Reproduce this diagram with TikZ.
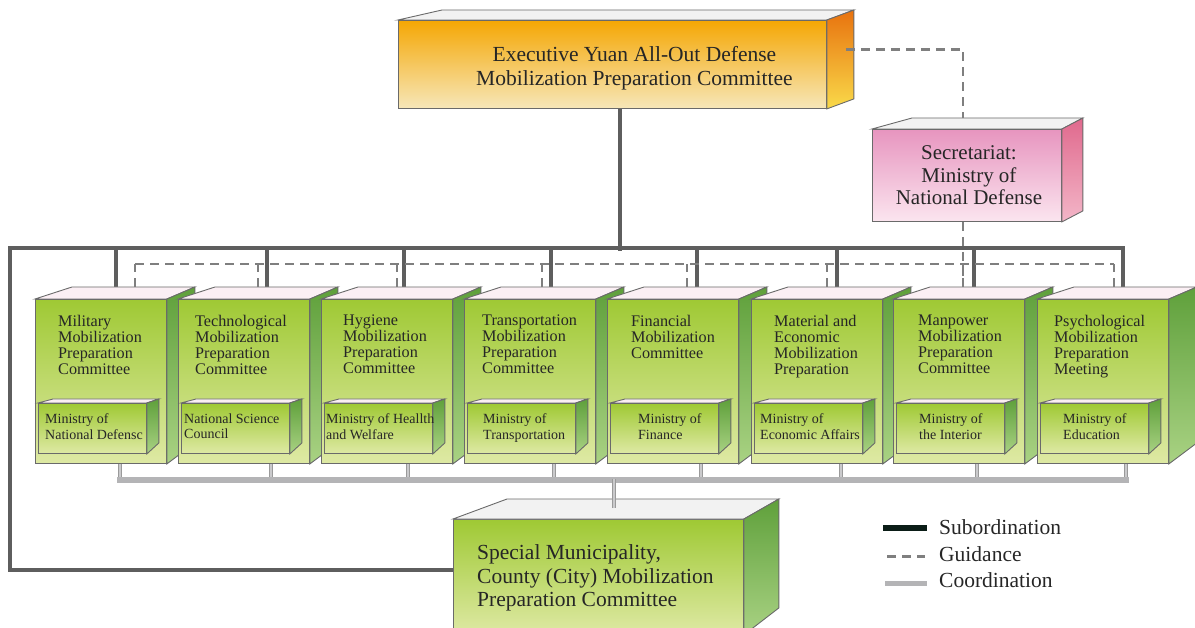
\documentclass[tikz,border=0pt]{standalone}
\usepackage{fontspec}
\setmainfont{Liberation Serif}
\usetikzlibrary{positioning,calc}
\pgfdeclarelayer{back}
\pgfsetlayers{back,main}
\definecolor{subgray}{HTML}{5E5E5E}
\definecolor{guidegray}{HTML}{7F7F7F}
\definecolor{coordgray}{HTML}{B4B4B6}
\definecolor{stubgray}{HTML}{9A9A9A}
\definecolor{stubfill}{HTML}{CACACC}
\definecolor{edgegray}{HTML}{6A6A6A}
\definecolor{txtgray}{HTML}{262626}
\definecolor{greentop}{HTML}{9FC934}
\definecolor{greenbot}{HTML}{DEE9A4}
\definecolor{greensidetop}{HTML}{5FA03B}
\definecolor{greensidebot}{HTML}{A9D283}
\definecolor{orangetop}{HTML}{F5A704}
\definecolor{orangebot}{HTML}{F6E7B9}
\definecolor{orangesidetop}{HTML}{E8720E}
\definecolor{orangesidebot}{HTML}{F9DA4A}
\definecolor{pinktop}{HTML}{E795BF}
\definecolor{pinkbot}{HTML}{FBE5EF}
\definecolor{pinksidetop}{HTML}{E0698D}
\definecolor{pinksidebot}{HTML}{F3B6C8}
\definecolor{lidpink}{HTML}{FBEFF4}
\definecolor{lidgray}{HTML}{F2F2F2}
\definecolor{legendblack}{HTML}{0B1D17}
\tikzset{
  face/.style={draw=edgegray,line width=0.9pt},
  front/.style={face,rectangle,inner sep=0pt,anchor=north west},
  greenfront/.style={front,top color=greentop,bottom color=greenbot},
  orangefront/.style={front,top color=orangetop,bottom color=orangebot},
  pinkfront/.style={front,top color=pinktop,bottom color=pinkbot},
  innerfront/.style={greenfront,minimum width=108pt,minimum height=50pt},
  pinklid/.style={fill=lidpink},
  graylid/.style={fill=lidgray},
  greenside/.style={top color=greensidetop,bottom color=greensidebot},
  orangeside/.style={top color=orangesidetop,bottom color=orangesidebot},
  pinkside/.style={top color=pinksidetop,bottom color=pinksidebot},
  cmtext/.style={inner sep=0pt,align=left,text=txtgray,font=\fontsize{16.2}{16}\selectfont},
  mintext/.style={inner sep=0pt,align=left,text=txtgray,font=\fontsize{14}{15.5}\selectfont},
  bigtext/.style={inner sep=0pt,align=center,text=txtgray,font=\fontsize{21.5}{23.5}\selectfont},
  legtext/.style={inner sep=0pt,text=txtgray,font=\fontsize{21.5}{26}\selectfont},
  subline/.style={draw=subgray,line width=4.5pt,line cap=rect},
  guideline/.style={draw=guidegray,line width=2.5pt,dash pattern=on 9pt off 6pt},
  coordline/.style={draw=coordgray,line width=5.5pt,line cap=rect},
  coordstub/.style={draw=stubgray,line width=1.3pt,double=stubfill,double distance=1.6pt}
}
% lid and right face of a front node
\newcommand{\cubefaces}[7]{%
  \path[face,#6] (#1.north west) -- ++(#2,-#4) -- ($(#1.north east)+(#3,-#4)$) -- (#1.north east) -- cycle;
  \path[face,#7] (#1.north east) -- ++(#3,-#4) -- ($(#1.south east)+(#3,-#5)$) -- (#1.south east) -- cycle;
}
% committee box with its ministry and its three stubs
\newcommand{\committee}[9]{%
  \node (#1) [greenfront,minimum width=131pt,minimum height=164pt] at (#2,299) {};
  \cubefaces{#1}{37}{28}{12}{21}{pinklid}{greenside}
  \node (#1txt) [cmtext,below right=16pt and #4pt of #1.north west] {#3};
  \node (#1in) [innerfront,below right=104pt and 3pt of #1.north west] {};
  \cubefaces{#1in}{15}{12}{4}{11}{pinklid}{greenside}
  \node (#1min) [mintext,below right=10.5pt and #6pt of #1in.north west] {#5};
  \begin{pgfonlayer}{back}
  \draw[subline] ($(#1.north west)+(#7,-12)$) -- ++(0,-39);
  \draw[guideline] ($(#1.north west)+(#8,-12)$) -- ++(0,-23);
  \draw[coordstub] ($(#1.south west)+(#9,0)$) -- ++(0,15);
  \end{pgfonlayer}
}

\begin{document}
\begin{tikzpicture}[x=1pt,y=-1pt]
\useasboundingbox (0,0) rectangle (1195,628);
%
\committee{mil}{35}{Military\\Mobilization\\Preparation\\Committee}{23}{Ministry of\\National Defensc}{7}{81}{100}{85}
\committee{tech}{178}{Technological\\Mobilization\\Preparation\\Committee}{17}{National Science\\Council}{3}{89}{80}{93}
\committee{hyg}{321}{Hygiene\\Mobilization\\Preparation\\Committee}{22}{Ministry of Heallth\\and Welfare}{2}{83}{76}{87}
\committee{trans}{464}{Transportation\\Mobilization\\Preparation\\Committee}{18}{Ministry of\\Transportation}{16}{87}{78}{90}
\committee{fin}{607}{Financial\\Mobilization\\Committee}{24}{Ministry of\\Finance}{28}{90}{80}{94}
\committee{mat}{751}{Material and\\Economic\\Mobilization\\Preparation}{23}{Ministry of\\Economic Affairs}{6}{86}{76}{90}
\committee{man}{893}{Manpower\\Mobilization\\Preparation\\Committee}{25}{Ministry of\\the Interior}{23}{81}{70}{84}
\committee{psy}{1037}{Psychological\\Mobilization\\Preparation\\Meeting}{17}{Ministry of\\Education}{23}{86}{77}{89}
%
\node (exec) [orangefront,minimum width=428pt,minimum height=88pt] at (398,20) {};
\cubefaces{exec}{44}{27}{10}{10}{graylid}{orangeside}
\node (exectxt) [bigtext] at ($(exec.center)+(22,4)$) {Executive Yuan All-Out Defense\\Mobilization Preparation Committee};
%
\node (secr) [pinkfront,minimum width=189pt,minimum height=92pt] at (872,129) {};
\cubefaces{secr}{40}{21}{11}{11}{graylid}{pinkside}
\node (secrtxt) [bigtext,font=\fontsize{21}{22.5}\selectfont] at ($(secr.center)+(2,0)$) {Secretariat:\\Ministry of\\National Defense};
%
\node (spec) [greenfront,minimum width=290pt,minimum height=115pt] at (453,519) {};
\cubefaces{spec}{54}{35}{20}{27}{graylid}{greenside}
\node (spectxt) [bigtext,align=left,below right=25.5pt and 24pt of spec.north west] {Special Municipality,\\County (City) Mobilization\\Preparation Committee};
%
\coordinate (subL) at (10,248);
\coordinate (subR) at ($(psy.north west)+(86,-51)$);
\begin{pgfonlayer}{back}
\draw[subline] ($(exec.south west)+(222,0)$) -- ++(0,140);
\draw[subline] ($(spec.north west)+(0,51)$) -| (subL) -- (subR);
\draw[guideline] ($(mil.north west)+(100,-35)$) -- ($(psy.north west)+(77,-35)$);
\draw[guideline] ($(secr.south west)+(91,0)$) -- ($(man.north west)+(70,-12)$);
\draw[coordline] ($(mil.south west)+(85,16)$) -- ($(psy.south west)+(89,16)$);
\end{pgfonlayer}
\draw[coordstub] ($(spec.north west)+(161,-11)$) -- ++(0,-29);
\draw[guideline] ($(exec.east)+(19,-15)$) -| ($(secr.north west)+(91,-11)$);
%
\node (lgsub) [legtext,anchor=base west] at (939,534) {Subordination};
\node (lgguide) [legtext,anchor=base west] at (939,561) {Guidance};
\node (lgcoord) [legtext,anchor=base west] at (939,587) {Coordination};
\draw[legendblack,line width=6pt] ($(lgsub.west)+(-56,1)$) -- ++(44,0);
\draw[guideline] ($(lgguide.west)+(-52,3)$) -- ++(38,0);
\draw[coordgray,line width=5pt] ($(lgcoord.west)+(-54,4)$) -- ++(42,0);
\end{tikzpicture}
\end{document}
